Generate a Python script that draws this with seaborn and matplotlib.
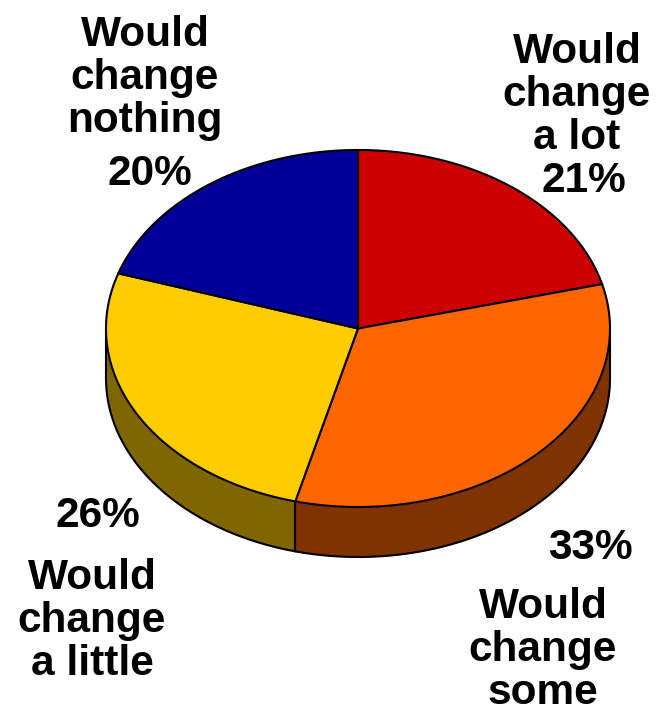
import numpy as np
import matplotlib
matplotlib.use("Agg")
import matplotlib.pyplot as plt
import seaborn as sns

labels = ["Would\nchange\na lot", "Would\nchange\nsome", "Would\nchange\na little", "Would\nchange\nnothing"]
values = [21, 33, 26, 20]
pct_labels = ["21%", "33%", "26%", "20%"]
top_colors = ["#CC0000", "#FF6600", "#FFCC00", "#000099"]
side_colors = ["#660000", "#803300", "#806600", "#00004D"]

sns.set_theme(style="white")
plt.rcParams["font.family"] = ["Liberation Sans", "DejaVu Sans"]

W, H = 666, 708
CX, CY, RX, RY, DEPTH = 358, 328.5, 252, 178.5, 50
LW = 1.5

fig = plt.figure(figsize=(W / 100, H / 100), dpi=100)
ax = fig.add_axes([0, 0, 1, 1])
frac = np.cumsum([0] + values) / sum(values)

# side wall, drawn only on the front half of the ellipse
for i, col in enumerate(side_colors):
    a0, a1 = frac[i] * 2 * np.pi, frac[i + 1] * 2 * np.pi
    a0, a1 = max(a0, np.pi / 2), min(a1, 3 * np.pi / 2)
    if a1 <= a0:
        continue
    t = np.linspace(a0, a1, 200)
    x = RX * np.sin(t)
    y = RY * np.cos(t)
    ax.fill_between(x, y - DEPTH, y, color=col, lw=0, zorder=1)
    ax.plot(x, y - DEPTH, color="black", lw=LW, zorder=2)
    for e in (a0, a1):
        ax.plot([RX * np.sin(e)] * 2, [RY * np.cos(e), RY * np.cos(e) - DEPTH],
                color="black", lw=LW, zorder=2)

# top face
for i, col in enumerate(top_colors):
    tt = np.linspace(frac[i] * 2 * np.pi, frac[i + 1] * 2 * np.pi, 200)
    ax.fill(np.r_[0, RX * np.sin(tt)], np.r_[0, RY * np.cos(tt)],
            facecolor=col, edgecolor="black", lw=LW, joinstyle="miter", zorder=3)

ax.set_xlim(-CX, W - CX)
ax.set_ylim(CY - H, CY)
ax.axis("off")

label_pos = [(577, 95), (543, 650), (92, 621), (145, 78)]
pct_pos = [(584, 181), (590, 548), (98, 516), (150, 174)]
for (lx, ly), lab, (px, py), pct in zip(label_pos, labels, pct_pos, pct_labels):
    ax.text(lx - CX, CY - ly, lab, ha="center", va="center", fontsize=30.5,
            fontweight="bold", color="black", linespacing=1.1, zorder=5)
    ax.text(px - CX, CY - py, pct, ha="center", va="center", fontsize=30.5,
            fontweight="bold", color="black", zorder=5)

fig.savefig("out.png", dpi=100)
